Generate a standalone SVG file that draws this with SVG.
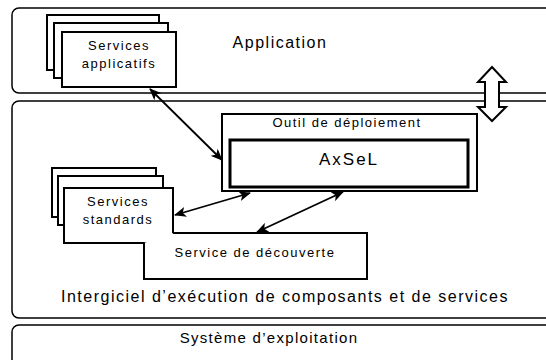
<svg xmlns="http://www.w3.org/2000/svg" width="546" height="360" viewBox="0 0 546 360">
<defs>
<style>
text{font-family:"Liberation Sans",Arial,sans-serif;fill:#000;text-anchor:middle}
.layer{fill:#fff;stroke:#000;stroke-width:1.5}
.box{fill:#fff;stroke:#000;stroke-width:2}
.big{font-size:16px;letter-spacing:1.5px}
.mid{font-size:13px;letter-spacing:1.5px}
.conn{stroke:#000;stroke-width:1.8;fill:none;marker-start:url(#ah);marker-end:url(#ah)}
</style>
<marker id="ah" viewBox="0 0 12 10" refX="11" refY="5" markerWidth="12" markerHeight="10" markerUnits="userSpaceOnUse" orient="auto-start-reverse">
<path d="M0,0 L12,5 L0,10 L3,5 Z" fill="#000"/>
</marker>
</defs>
<g id="layer-application">
<rect class="layer" x="12" y="8" width="560" height="85" rx="7"/>
<text class="big" x="280" y="48">Application</text>
</g>
<g id="layer-intergiciel">
<rect class="layer" x="12" y="101" width="560" height="217" rx="7"/>
<text class="big" x="285" y="302">Intergiciel d’exécution de composants et de services</text>
</g>
<g id="layer-systeme">
<rect class="layer" x="12" y="325" width="560" height="60" rx="7"/>
<text x="269" y="343" style="font-size:15px;letter-spacing:1.3px">Système d’exploitation</text>
</g>
<g id="services-applicatifs">
<rect class="box" x="47" y="15" width="112" height="55"/>
<rect class="box" x="54" y="23" width="114" height="55"/>
<rect class="box" x="62" y="32" width="114" height="55"/>
<text class="mid" x="119" y="50">Services</text>
<text class="mid" x="119" y="68">applicatifs</text>
</g>
<g id="outil-deploiement">
<rect class="box" x="222" y="114" width="255" height="77"/>
<text class="mid" x="347" y="127">Outil de déploiement</text>
</g>
<g id="axsel">
<rect fill="#fff" stroke="#000" stroke-width="3" x="230" y="140" width="238" height="47"/>
<text x="349" y="165" style="font-size:17px;letter-spacing:2px">AxSeL</text>
</g>
<g id="services-standards">
<rect class="box" x="52" y="168" width="104" height="49"/>
<rect class="box" x="58" y="176" width="105" height="49"/>
<rect class="box" x="64" y="188" width="109" height="55"/>
<text class="mid" x="118" y="206">Services</text>
<text class="mid" x="118" y="224">standards</text>
</g>
<g id="service-decouverte">
<path class="box" d="M173,233 H367 V279 H144 V243"/>
<text class="mid" x="255" y="257">Service de découverte</text>
</g>
<g id="connectors">
<line class="conn" x1="150" y1="89" x2="222" y2="160"/>
<line class="conn" x1="175" y1="215" x2="250" y2="193"/>
<line class="conn" x1="257" y1="232" x2="343" y2="192"/>
<path d="M492,67 L506,82 L499,82 L499,107 L506,107 L492,121 L478,107 L485,107 L485,82 L478,82 Z" fill="#fff" stroke="#000" stroke-width="2" stroke-linejoin="miter"/>
</g>
</svg>
